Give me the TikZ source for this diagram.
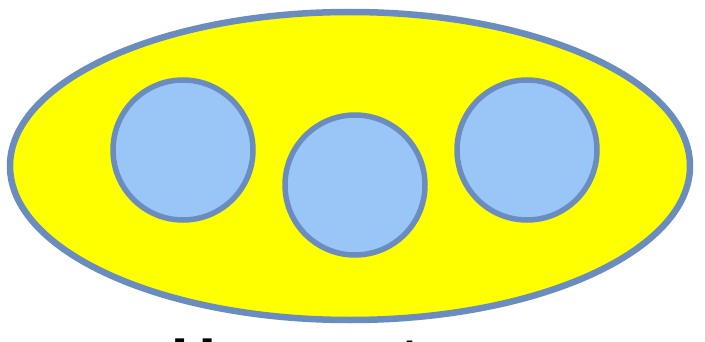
\documentclass[tikz,border=0pt]{standalone}
\usepackage{fontspec}
\setmainfont{Liberation Sans}
\usetikzlibrary{shapes.geometric}
\definecolor{edgeblue}{HTML}{6A8CBE}
\definecolor{fillblue}{HTML}{99C6F7}
\definecolor{bigyellow}{HTML}{FFFF00}
\tikzset{
  outer/.style={ellipse, draw=edgeblue, line width=6.5pt, fill=bigyellow, inner sep=0pt},
  member/.style={circle, draw=edgeblue, line width=5.5pt, fill=fillblue, inner sep=0pt, minimum size=140pt},
}
\begin{document}
\begin{tikzpicture}[x=1pt,y=1pt]
\useasboundingbox (0,0) rectangle (705,341);
\clip (0,0) rectangle (705,341);
\node[outer, minimum width=680pt, minimum height=308pt] (team) at (350,175) {};
\node[member] (m1) at (183,191) {};
\node[member] (m2) at (355,156) {};
\node[member] (m3) at (527,191) {};
\node[anchor=base, font=\bfseries\fontsize{62}{62}\selectfont] (label) at (358,-40) {Human team};
\end{tikzpicture}
\end{document}
